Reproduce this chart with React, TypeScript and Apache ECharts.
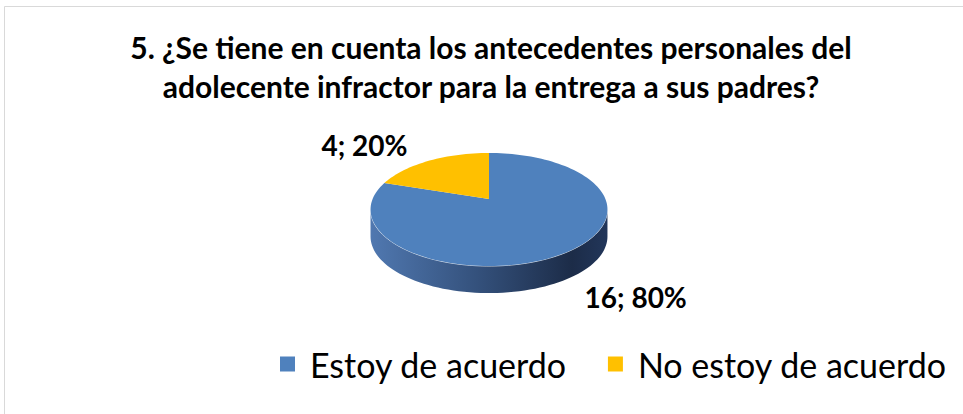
import React, { useEffect, useRef } from "react";
import * as echarts from "echarts";

const titleLines = [
  "5. ¿Se tiene en cuenta los antecedentes personales del",
  "adolecente infractor para la entrega a sus padres?",
];
const categories = ["Estoy de acuerdo", "No estoy de acuerdo"];
const values = [16, 4];
const colors = ["#4F81BD", "#FFC000"];

const FONT = "Lato, 'Open Sans', sans-serif";
const CX = 489;
const CY = 199;
const A = 116.4;
const B = 54.6;
const P = 0.186;
const DEPTH = 27;

function proj(theta: number, dy = 0): [number, number] {
  const X = Math.sin(theta);
  const Z = -Math.cos(theta);
  const s = 1 / (1 - P * Z);
  return [CX + A * X * s, CY + B * Z * s + dy];
}

function arcPoints(a: number, b: number, dy = 0): [number, number][] {
  const n = Math.max(4, Math.ceil(((b - a) / (Math.PI * 2)) * 160));
  const pts: [number, number][] = [];
  for (let k = 0; k <= n; k++) pts.push(proj(a + ((b - a) * k) / n, dy));
  return pts;
}

export default function App() {
  const ref = useRef<HTMLDivElement>(null);
  useEffect(() => {
    if (!ref.current) return;
    const chart = echarts.init(ref.current, undefined, { renderer: "svg" });
    const total = values.reduce((s, v) => s + v, 0);
    const thL = Math.acos(-P);
    const thR = Math.PI * 2 - thL;

    const renderItem = (params: any, api: any) => {
      const i = params.seriesIndex;
      const v = api.value(0);
      let before = 0;
      for (let k = 0; k < i; k++) before += values[k];
      const a = (before / total) * Math.PI * 2;
      const b = ((before + v) / total) * Math.PI * 2;
      const children: any[] = [];
      const sa = Math.max(a, thL);
      const sb = Math.min(b, thR);
      if (sb > sa) {
        const top = arcPoints(sa, sb);
        const bot = arcPoints(sa, sb, DEPTH).reverse();
        children.push({
          type: "polygon",
          shape: { points: top.concat(bot) },
          style: {
            fill: new echarts.graphic.LinearGradient(0, 0, 1, 0, [
              { offset: 0, color: "#5078b0" },
              { offset: 0.45, color: "#34517c" },
              { offset: 0.85, color: "#1c2c48" },
              { offset: 1, color: "#22365a" },
            ]),
          },
        });
        children.push({
          type: "polyline",
          shape: { points: top },
          style: { stroke: "rgba(255,255,255,0.7)", lineWidth: 1, fill: null },
        });
      }
      children.push({
        type: "polygon",
        shape: { points: [[CX, CY] as [number, number]].concat(arcPoints(a, b)) },
        style: { fill: colors[i] },
      });
      const m = (a + b) / 2;
      const e = proj(m);
      const left = Math.sin(m) < 0;
      const near = -Math.cos(m) > 0;
      const pct = Math.round((v / total) * 100);
      children.push({
        type: "text",
        x: e[0] + (left ? -22 : 15),
        y: e[1] + (near ? DEPTH + 5 : -2),
        style: {
          text: `${v}; ${pct}%`,
          font: `bold 28px ${FONT}`,
          fill: "#000",
          align: left ? "right" : "left",
          verticalAlign: near ? "top" : "bottom",
        },
      });
      return { type: "group", children };
    };

    chart.setOption({
      animation: false,
      backgroundColor: "#fff",
      graphic: [
        {
          type: "rect",
          shape: { x: 4.5, y: 6.5, width: 970, height: 430 },
          style: { fill: "none", stroke: "#d9d9d9", lineWidth: 1 },
          silent: true,
        },
        {
          type: "text",
          x: 491,
          y: 47,
          style: {
            text: titleLines[0],
            font: `bold 30px ${FONT}`,
            fill: "#000",
            align: "center",
            verticalAlign: "middle",
          },
        },
        {
          type: "text",
          x: 491,
          y: 86,
          style: {
            text: titleLines[1],
            font: `bold 30px ${FONT}`,
            fill: "#000",
            align: "center",
            verticalAlign: "middle",
          },
        },
      ],
      legend: {
        data: categories,
        left: 275,
        top: 342,
        icon: "rect",
        itemWidth: 15,
        itemHeight: 15,
        itemGap: 41,
        textStyle: {
          fontSize: 34,
          fontFamily: FONT,
          color: "#000",
          padding: [0, 0, 0, 10],
        },
      },
      series: categories.map((name, i) => ({
        type: "custom",
        name,
        coordinateSystem: "none",
        itemStyle: { color: colors[i] },
        data: [[values[i]]],
        renderItem,
      })),
    });
    return () => chart.dispose();
  }, []);
  return (
    <div
      ref={ref}
      style={{ position: "fixed", left: 0, top: 0, width: 963, height: 414 }}
    />
  );
}
